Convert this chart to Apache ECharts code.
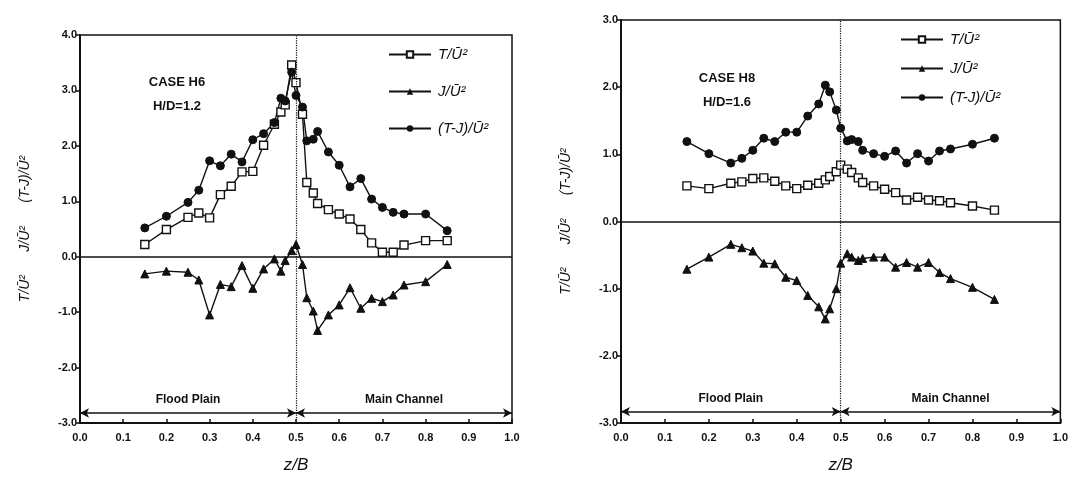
<!DOCTYPE html>
<html>
<head>
<meta charset="utf-8">
<script src="https://cdn.jsdelivr.net/npm/echarts@6/dist/echarts.min.js"></script>
<style>
  html, body { margin: 0; padding: 0; background: #ffffff; }
  #chart { width: 1071px; height: 479px; }
</style>
</head>
<body>
<div id="chart"></div>
<script>
// Measurement stations across the channel (z/B)
const zPos = [0.15, 0.2, 0.25, 0.275, 0.3, 0.325, 0.35, 0.375, 0.4, 0.425, 0.45, 0.465, 0.475, 0.49, 0.5,
              0.515, 0.525, 0.54, 0.55, 0.575, 0.6, 0.625, 0.65, 0.675, 0.7, 0.725, 0.75, 0.8, 0.85];

// CASE H6, H/D = 1.2
const h6T  = [0.22, 0.49, 0.71, 0.79, 0.70, 1.12, 1.27, 1.53, 1.54, 2.01, 2.39, 2.61, 2.74, 3.46, 3.14,
              2.57, 1.34, 1.15, 0.96, 0.85, 0.77, 0.68, 0.49, 0.25, 0.08, 0.08, 0.21, 0.29, 0.29];
const h6J  = [-0.31, -0.26, -0.28, -0.42, -1.05, -0.50, -0.54, -0.16, -0.57, -0.22, -0.04, -0.26, -0.07, 0.11, 0.22,
              -0.14, -0.74, -0.98, -1.33, -1.05, -0.87, -0.56, -0.93, -0.75, -0.81, -0.69, -0.51, -0.45, -0.14];
const h6TJ = [0.52, 0.73, 0.98, 1.20, 1.73, 1.64, 1.85, 1.71, 2.11, 2.22, 2.42, 2.86, 2.81, 3.33, 2.91,
              2.70, 2.09, 2.12, 2.26, 1.89, 1.65, 1.26, 1.41, 1.04, 0.89, 0.80, 0.77, 0.77, 0.47];

// CASE H8, H/D = 1.6
const h8T  = [0.53, 0.49, 0.57, 0.59, 0.64, 0.65, 0.60, 0.53, 0.49, 0.54, 0.57, 0.62, 0.67, 0.74, 0.84,
              0.78, 0.73, 0.65, 0.58, 0.53, 0.48, 0.43, 0.32, 0.36, 0.32, 0.31, 0.28, 0.23, 0.17];
const h8J  = [-0.71, -0.53, -0.34, -0.39, -0.44, -0.62, -0.63, -0.83, -0.88, -1.10, -1.27, -1.45, -1.30, -1.00, -0.62,
              -0.48, -0.53, -0.58, -0.55, -0.53, -0.53, -0.68, -0.61, -0.68, -0.61, -0.76, -0.85, -0.98, -1.16];
const h8TJ = [1.19, 1.01, 0.87, 0.94, 1.06, 1.24, 1.19, 1.33, 1.33, 1.57, 1.75, 2.03, 1.93, 1.66, 1.39,
              1.20, 1.22, 1.19, 1.06, 1.01, 0.97, 1.05, 0.87, 1.01, 0.90, 1.05, 1.08, 1.15, 1.24];

const seriesNames = ['T/Ū²', 'J/Ū²', '(T-J)/Ū²'];
const yAxisTitle = 'T/Ū²      J/Ū²      (T-J)/Ū²';
const xAxisTitle = 'z/B';
const zoneNames = ['Flood Plain', 'Main Channel'];
const caseLabels = [['CASE H6', 'H/D=1.2'], ['CASE H8', 'H/D=1.6']];
const yRanges = [[-3, 4], [-3, 3]];
const interfaceZ = 0.5;
const zoneArrowY = [-2.82, -2.83];

const FONT = 'Liberation Sans, Arial, sans-serif';
const INK = '#111111';

function xAxisFor(gridIndex) {
  return {
    type: 'value', gridIndex, min: 0, max: 1, interval: 0.1,
    name: xAxisTitle, nameLocation: 'middle', nameGap: 34,
    nameTextStyle: { fontFamily: FONT, fontStyle: 'italic', fontSize: 17, color: INK },
    axisLine: { show: true, onZero: false, lineStyle: { color: INK, width: 2 } },
    axisTick: { show: true, inside: true, length: 4, lineStyle: { color: INK, width: 1.5 } },
    axisLabel: { fontFamily: FONT, fontWeight: 'bold', fontSize: 11, color: INK, margin: 9,
                 formatter: v => v.toFixed(1) },
    splitLine: { show: false }
  };
}

function yAxisFor(gridIndex, range) {
  return {
    type: 'value', gridIndex, min: range[0], max: range[1], interval: 1,
    name: yAxisTitle, nameLocation: 'middle', nameRotate: 90, nameGap: 48,
    nameTextStyle: { fontFamily: FONT, fontStyle: 'italic', fontSize: 14, color: INK },
    axisLine: { show: true, onZero: false, lineStyle: { color: INK, width: 2 } },
    axisTick: { show: true, inside: false, length: 4, lineStyle: { color: INK, width: 1.5 } },
    axisLabel: { fontFamily: FONT, fontWeight: 'bold', fontSize: 11, color: INK, margin: 3,
                 formatter: v => v.toFixed(1) },
    splitLine: { show: false }
  };
}

function pairs(values) {
  return zPos.map((z, i) => [z, values[i]]);
}

// zero line and the flood plain / main channel interface
function guideLines() {
  return {
    silent: true,
    animation: false,
    symbol: 'none',
    label: { show: false },
    data: [
      { yAxis: 0, lineStyle: { type: 'solid', color: INK, width: 1.5 } },
      { xAxis: interfaceZ, lineStyle: { type: 'dotted', color: INK, width: 1.2 } }
    ]
  };
}

// double-headed arrows marking the two zones
function zoneArrows(arrowY) {
  const lbl = (text) => ({
    show: true, formatter: text, position: 'insideMiddleTop', distance: 7,
    fontFamily: FONT, fontWeight: 'bold', fontSize: 12, color: INK
  });
  return {
    silent: true,
    animation: false,
    symbol: ['arrow', 'arrow'],
    symbolSize: [7, 9],
    lineStyle: { type: 'solid', color: INK, width: 1.5 },
    data: [
      [{ coord: [0, arrowY], label: lbl(zoneNames[0]) }, { coord: [interfaceZ, arrowY] }],
      [{ coord: [interfaceZ, arrowY], label: lbl(zoneNames[1]) }, { coord: [1, arrowY] }]
    ]
  };
}

function seriesFor(gridIndex, T, J, TJ) {
  const base = {
    type: 'line', xAxisIndex: gridIndex, yAxisIndex: gridIndex,
    lineStyle: { color: INK, width: 1.4 },
    symbolSize: 7, z: 3, animation: false
  };
  return [
    Object.assign({}, base, {
      name: seriesNames[0], data: pairs(T), symbol: 'rect', symbolSize: 8,
      itemStyle: { color: '#ffffff', borderColor: INK, borderWidth: 1.4 },
      markLine: guideLines()
    }),
    Object.assign({}, base, {
      name: seriesNames[1], data: pairs(J), symbol: 'triangle', symbolSize: 8,
      itemStyle: { color: INK, borderColor: INK },
      markLine: zoneArrows(zoneArrowY[gridIndex])
    }),
    Object.assign({}, base, {
      name: seriesNames[2], data: pairs(TJ), symbol: 'circle', symbolSize: 8,
      itemStyle: { color: INK, borderColor: INK }
    })
  ];
}

function legendFor(left, top, gap) {
  return {
    orient: 'vertical', left, top, itemWidth: 42, itemHeight: 8, itemGap: gap,
    data: seriesNames, selectedMode: false,
    textStyle: { fontFamily: FONT, fontStyle: 'italic', fontSize: 15, color: INK, padding: [0, 0, 0, 2] }
  };
}

function caseText(lines, cx, cy) {
  return lines.map((t, i) => ({
    type: 'text', x: cx, y: cy + i * 24,
    style: { text: t, x: 0, y: 0, align: 'center', verticalAlign: 'middle',
             font: 'bold 13px ' + FONT, fill: INK }
  }));
}

const chart = echarts.init(document.getElementById('chart'), null, { renderer: 'canvas' });
chart.setOption({
  backgroundColor: '#ffffff',
  animation: false,
  grid: [
    { left: 80, top: 35, width: 432, height: 392, show: true, borderColor: INK, borderWidth: 1.5, backgroundColor: 'transparent' },
    { left: 621, top: 20, width: 440, height: 406, show: true, borderColor: INK, borderWidth: 1.5, backgroundColor: 'transparent' }
  ],
  xAxis: [xAxisFor(0), xAxisFor(1)],
  yAxis: [yAxisFor(0, yRanges[0]), yAxisFor(1, yRanges[1])],
  legend: [legendFor(383, 42, 22), legendFor(895, 27, 14)],
  graphic: [].concat(caseText(caseLabels[0], 177, 82), caseText(caseLabels[1], 727, 78)),
  series: [].concat(seriesFor(0, h6T, h6J, h6TJ), seriesFor(1, h8T, h8J, h8TJ))
});
</script>
</body>
</html>
